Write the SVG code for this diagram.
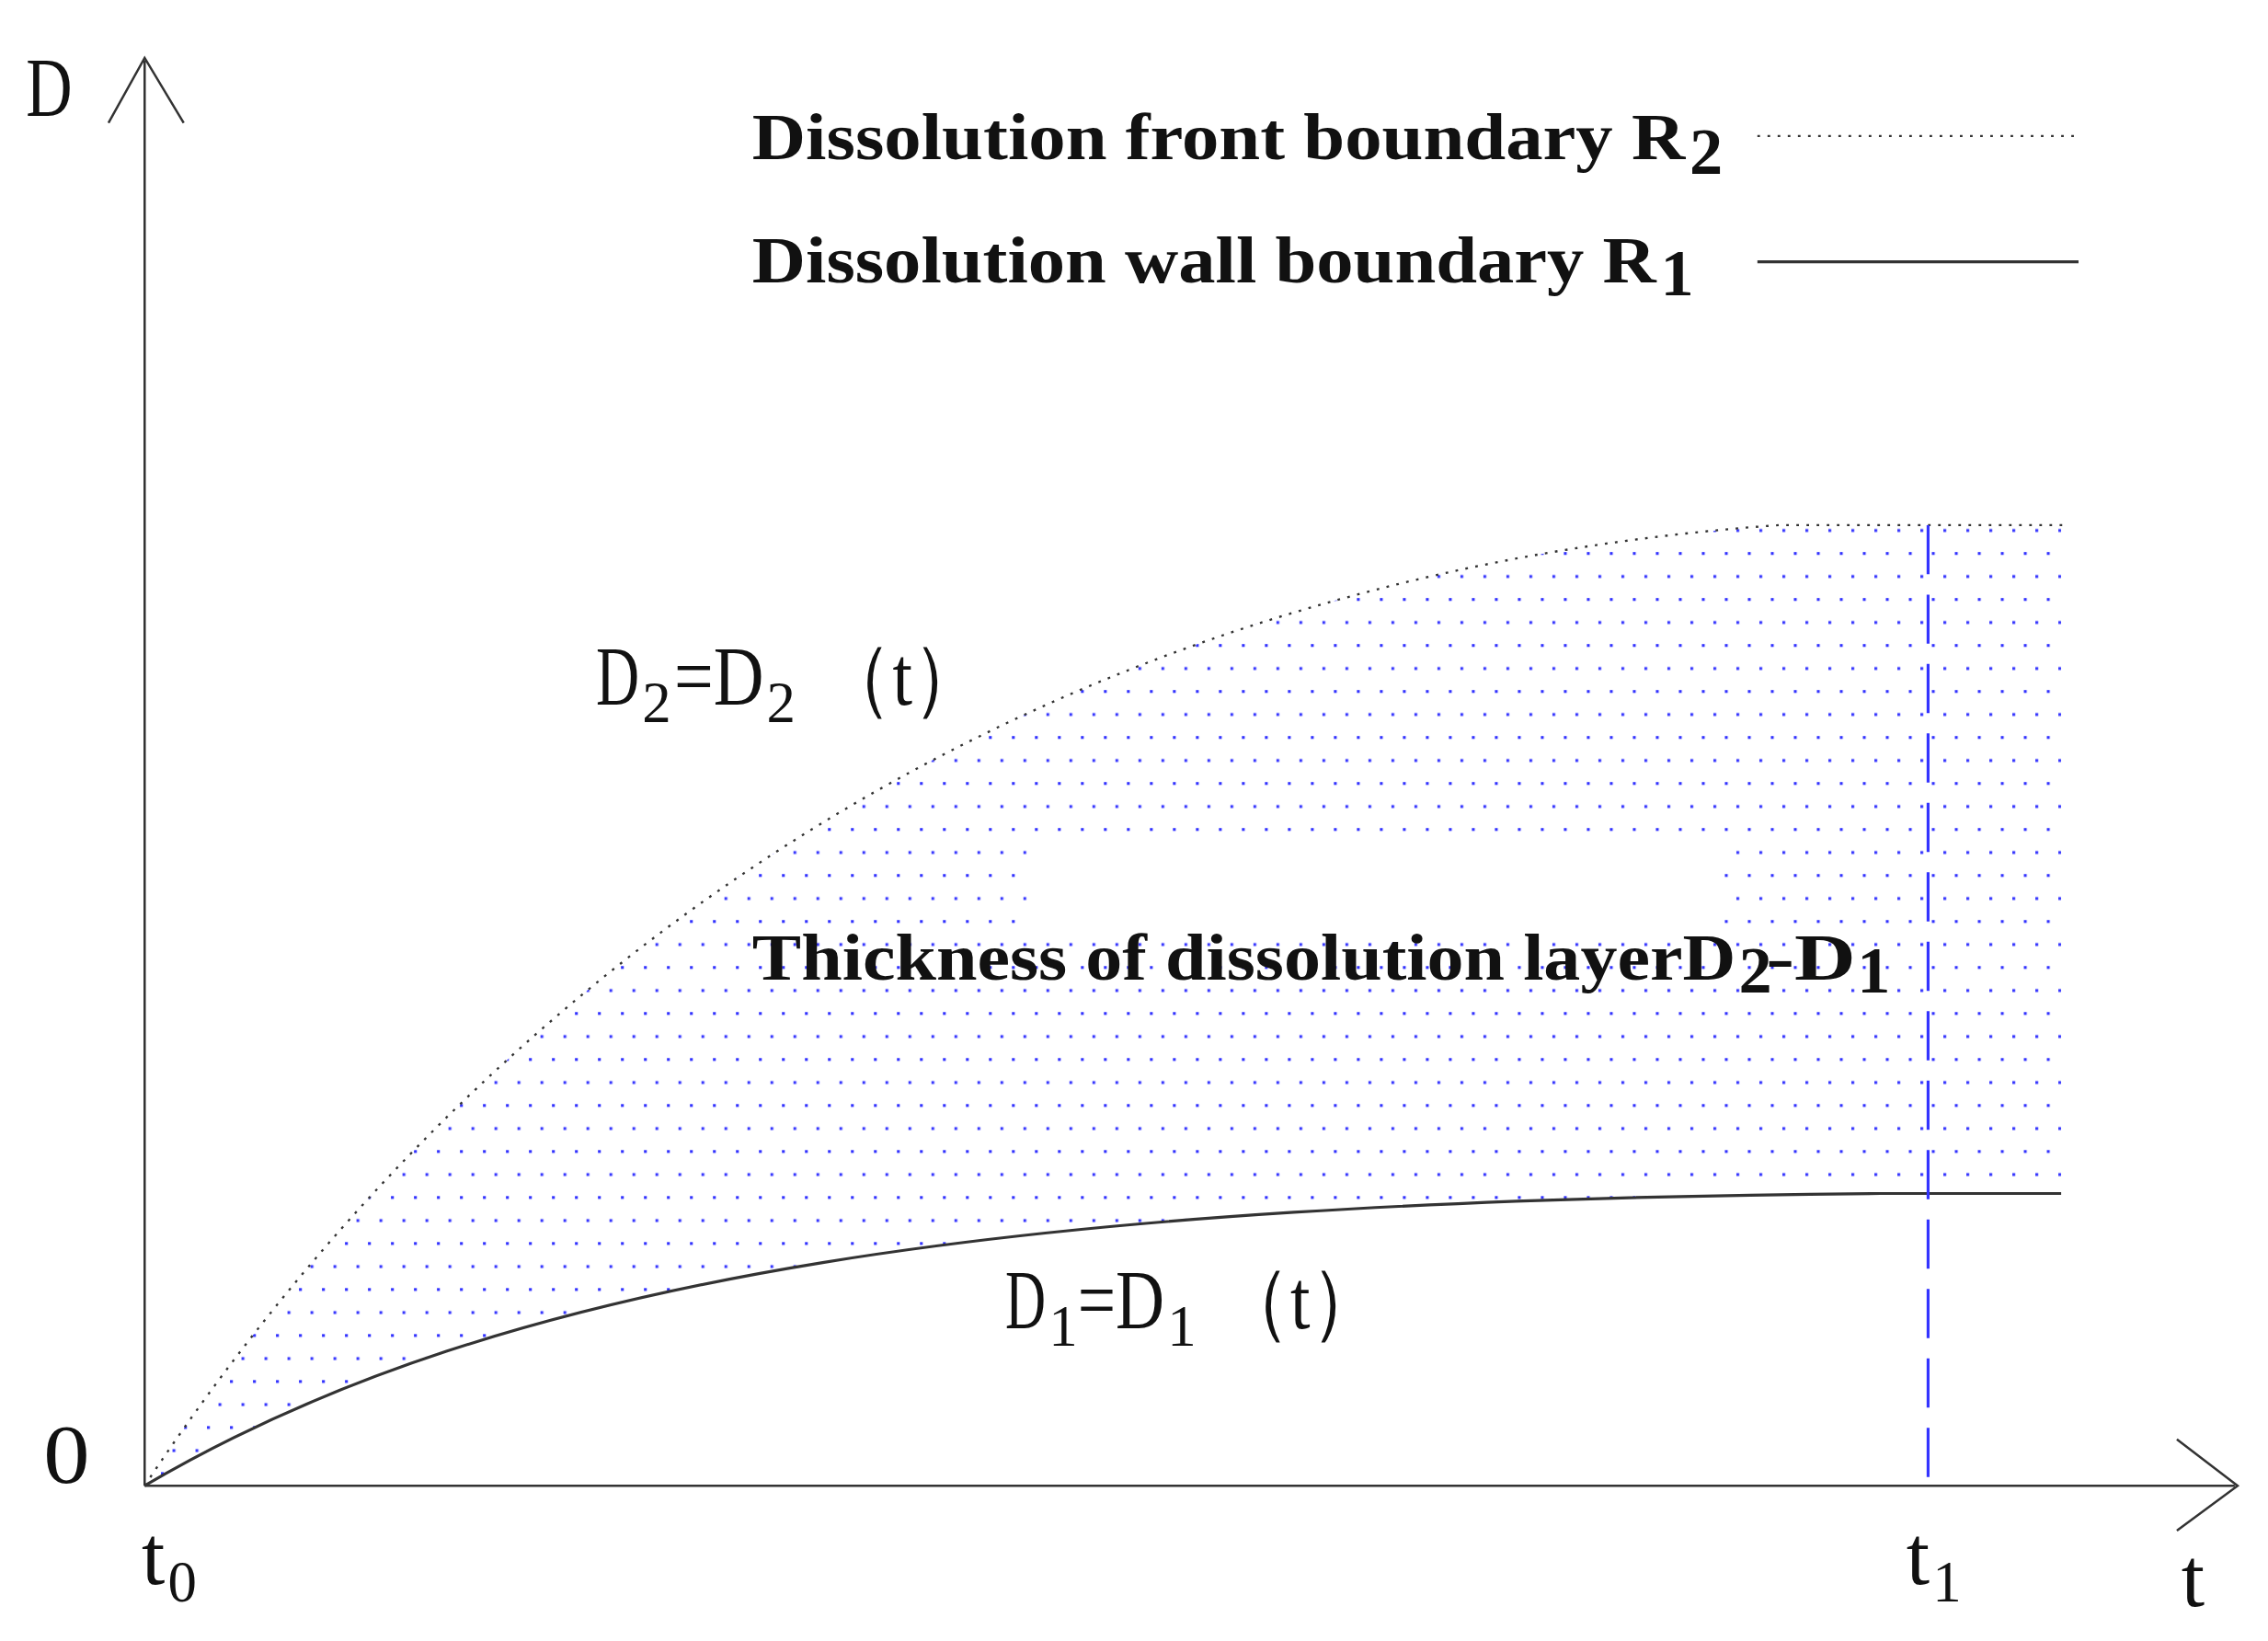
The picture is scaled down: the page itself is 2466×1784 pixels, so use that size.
<svg xmlns="http://www.w3.org/2000/svg" width="2466" height="1784" viewBox="0 0 2466 1784">
<defs>
<pattern id="dots" patternUnits="userSpaceOnUse" width="15.9" height="31.8">
<rect x="0" y="0" width="2" height="2" fill="#3333ff"/>
<rect x="7.95" y="15.9" width="2" height="2" fill="#3333ff"/>
</pattern>
<style>
.ax{stroke:#333;stroke-width:1.6;fill:none}
.lb{font-family:"Liberation Serif",serif;font-size:58px;fill:#111}
.sb{font-family:"Liberation Serif",serif;font-size:40px;fill:#111}
.bd{font-family:"Liberation Serif",serif;font-size:46px;font-weight:bold;fill:#111}
</style>
</defs>
<rect width="2466" height="1784" fill="#fff"/>
<g transform="scale(1.5727)">
<g id="region">
<path d="M100,1027 C330,680 700,400 1230,363 L1425,363 L1425,825 L1300,825 C700,830 350,880 100,1027 Z" fill="url(#dots)"/>
<rect x="710" y="578" width="480" height="62" fill="#fff"/>
</g>
<g id="connectors">
<path class="ax" d="M100,1027 V42 M75,85 L100,40 L127,85"/>
<path class="ax" d="M100,1027 H1545 M1505,995 L1547,1027 L1505,1058"/>
<path d="M100,1027 C330,680 700,400 1230,363 L1430,363" fill="none" stroke="#333" stroke-width="1.5" stroke-dasharray="1.8 5.2"/>
<path d="M100,1027 C350,880 700,830 1300,825 L1425,825" fill="none" stroke="#333" stroke-width="2"/>
<line x1="1333" y1="363" x2="1333" y2="1027" stroke="#3333ff" stroke-width="2" stroke-dasharray="34 14"/>
<line x1="1215" y1="94" x2="1437" y2="94" stroke="#333" stroke-width="1.5" stroke-dasharray="1.8 5.2"/>
<line x1="1215" y1="181" x2="1437" y2="181" stroke="#333" stroke-width="2"/>
</g>
<g id="labels">
<text class="lb" x="18" y="80" textLength="32" lengthAdjust="spacingAndGlyphs">D</text>
<text class="lb" x="30" y="1025" textLength="32" lengthAdjust="spacingAndGlyphs">0</text>
<text class="lb" x="98" y="1095">t</text><text class="sb" x="116" y="1107">0</text>
<text class="lb" x="1318" y="1095">t</text><text class="sb" x="1336" y="1107">1</text>
<text class="lb" x="1508" y="1110">t</text>
<text class="bd" x="520" y="110" textLength="645" lengthAdjust="spacingAndGlyphs">Dissolution front boundary R</text><text class="bd" x="1168" y="120" font-size="30">2</text>
<text class="bd" x="520" y="195" textLength="625" lengthAdjust="spacingAndGlyphs">Dissolution wall boundary R</text><text class="bd" x="1148" y="204" font-size="30">1</text>
<text class="lb" x="412" y="487" textLength="30" lengthAdjust="spacingAndGlyphs">D</text><text class="sb" x="444" y="499">2</text>
<text class="lb" x="466" y="487" textLength="62" lengthAdjust="spacingAndGlyphs">=D</text><text class="sb" x="530" y="499">2</text>
<text class="lb" x="568" y="487" textLength="112" lengthAdjust="spacingAndGlyphs">（t）</text>
<text class="bd" x="520" y="677" textLength="680" lengthAdjust="spacingAndGlyphs">Thickness of dissolution layerD</text><text class="bd" x="1202" y="686" font-size="30">2</text><text class="bd" x="1221" y="677" textLength="62" lengthAdjust="spacingAndGlyphs">-D</text><text class="bd" x="1284" y="686" font-size="30">1</text>
<text class="lb" x="695" y="918" textLength="28" lengthAdjust="spacingAndGlyphs">D</text><text class="sb" x="725" y="930">1</text>
<text class="lb" x="745" y="918" textLength="60" lengthAdjust="spacingAndGlyphs">=D</text><text class="sb" x="807" y="930">1</text>
<text class="lb" x="843" y="918" textLength="112" lengthAdjust="spacingAndGlyphs">（t）</text>
</g>
</g>
</svg>
